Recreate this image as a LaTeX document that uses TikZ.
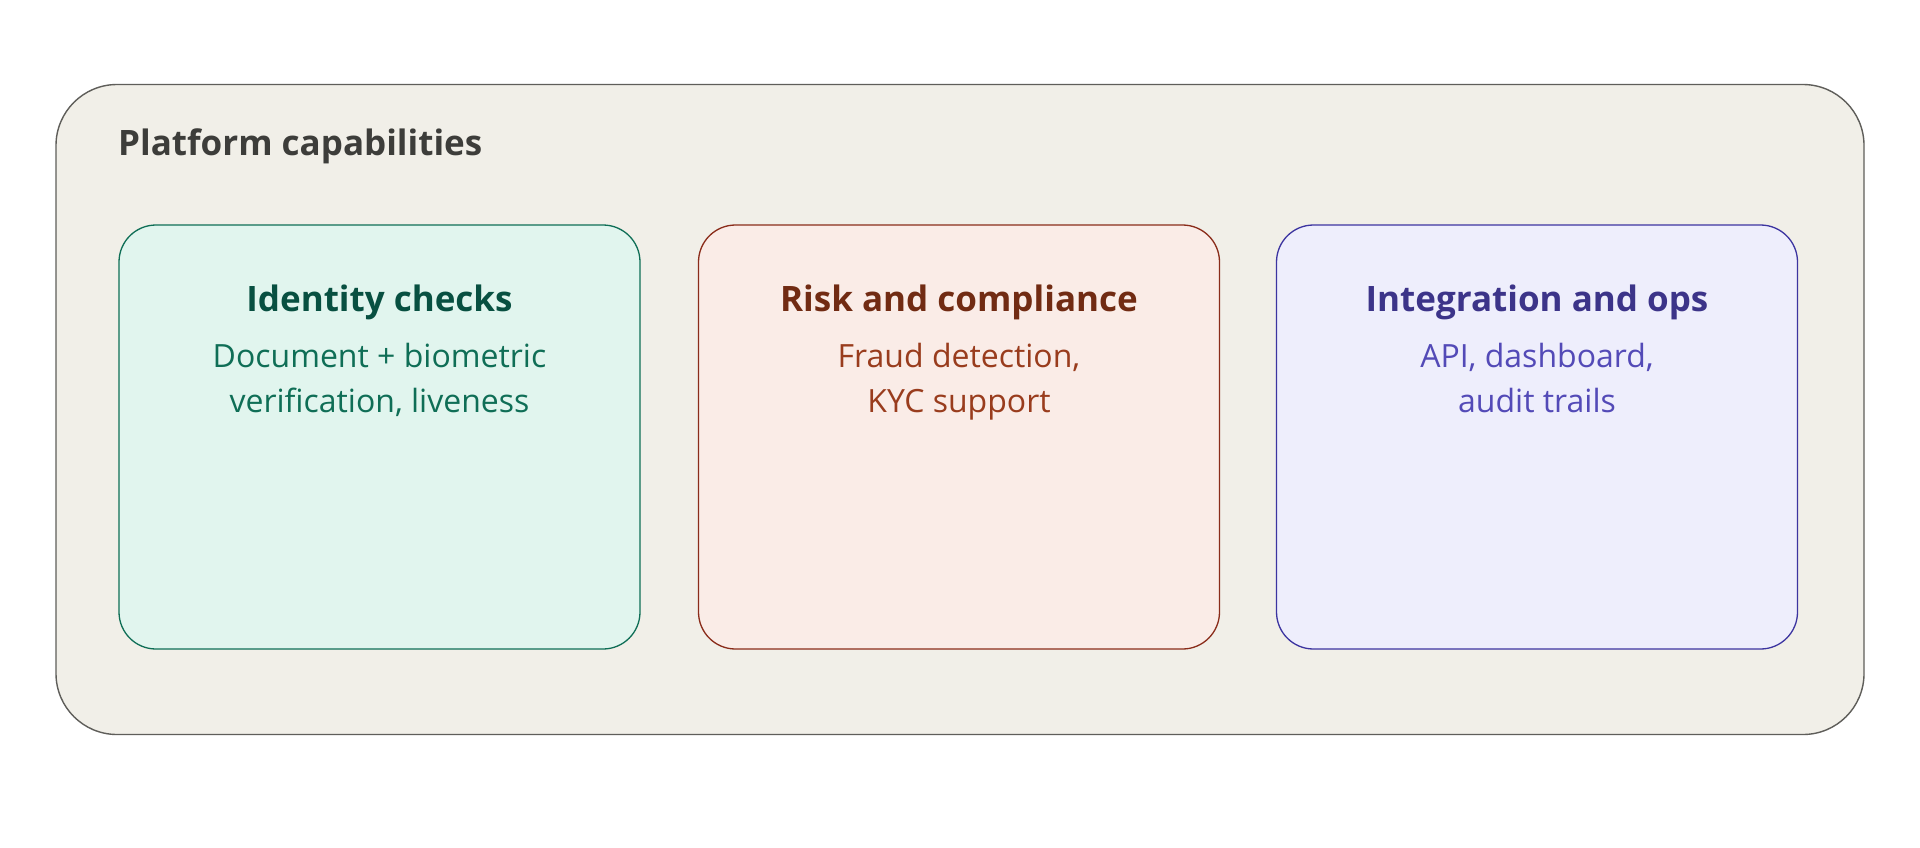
\documentclass[tikz,border=0pt]{standalone}
\usepackage{fontspec}
\setmainfont{Open Sans}
\definecolor{outerfill}{HTML}{F1EFE8}
\definecolor{outerline}{HTML}{5F5E5A}
\definecolor{titlegray}{HTML}{3D3D3A}
\definecolor{gfill}{HTML}{E1F5EE}
\definecolor{gline}{HTML}{0F6E56}
\definecolor{gtitle}{HTML}{085041}
\definecolor{gtext}{HTML}{0F6E56}
\definecolor{rfill}{HTML}{FAECE7}
\definecolor{rline}{HTML}{8A2C1A}
\definecolor{rtitle}{HTML}{712B13}
\definecolor{rtext}{HTML}{993C1D}
\definecolor{bfill}{HTML}{EEEEFC}
\definecolor{bline}{HTML}{3C34A0}
\definecolor{btitle}{HTML}{3C3489}
\definecolor{btext}{HTML}{534AB7}
\tikzset{
  card/.style={draw, line width=1.3pt, rounded corners=37pt, minimum width=521pt, minimum height=424pt, inner sep=0pt},
  cardtitle/.style={anchor=base, font=\bfseries\fontsize{35}{40}\selectfont},
  cardtext/.style={anchor=base, align=center, font=\fontsize{32}{45}\selectfont},
}
\begin{document}
\begin{tikzpicture}[x=1pt,y=-1pt]
\useasboundingbox (0,0) rectangle (1920,847);
\fill[white] (0,0) rectangle (1920,847);
\node[draw=outerline, fill=outerfill, line width=1.4pt, rounded corners=61pt, minimum width=1808pt, minimum height=650pt, inner sep=0pt] (outer) at (960,409.5) {};
\node[anchor=base west, text=titlegray, font=\bfseries\fontsize{35}{40}\selectfont, inner sep=0pt] (ptitle) at (118,155) {Platform capabilities};

\node[card, draw=gline, fill=gfill] (c1) at (379.5,437) {};
\node[card, draw=rline, fill=rfill] (c2) at (959,437) {};
\node[card, draw=bline, fill=bfill] (c3) at (1537,437) {};

\node[cardtitle, text=gtitle] (t1) at (379.5,311) {Identity checks};
\node[cardtext, text=gtext] (s1) at (379.5,412) {Document + biometric\\verification, liveness};
\node[cardtitle, text=rtitle] (t2) at (959,311) {Risk and compliance};
\node[cardtext, text=rtext] (s2) at (959,412) {Fraud detection,\\KYC support};
\node[cardtitle, text=btitle] (t3) at (1537,311) {Integration and ops};
\node[cardtext, text=btext] (s3) at (1537,412) {API, dashboard,\\audit trails};
\end{tikzpicture}
\end{document}
